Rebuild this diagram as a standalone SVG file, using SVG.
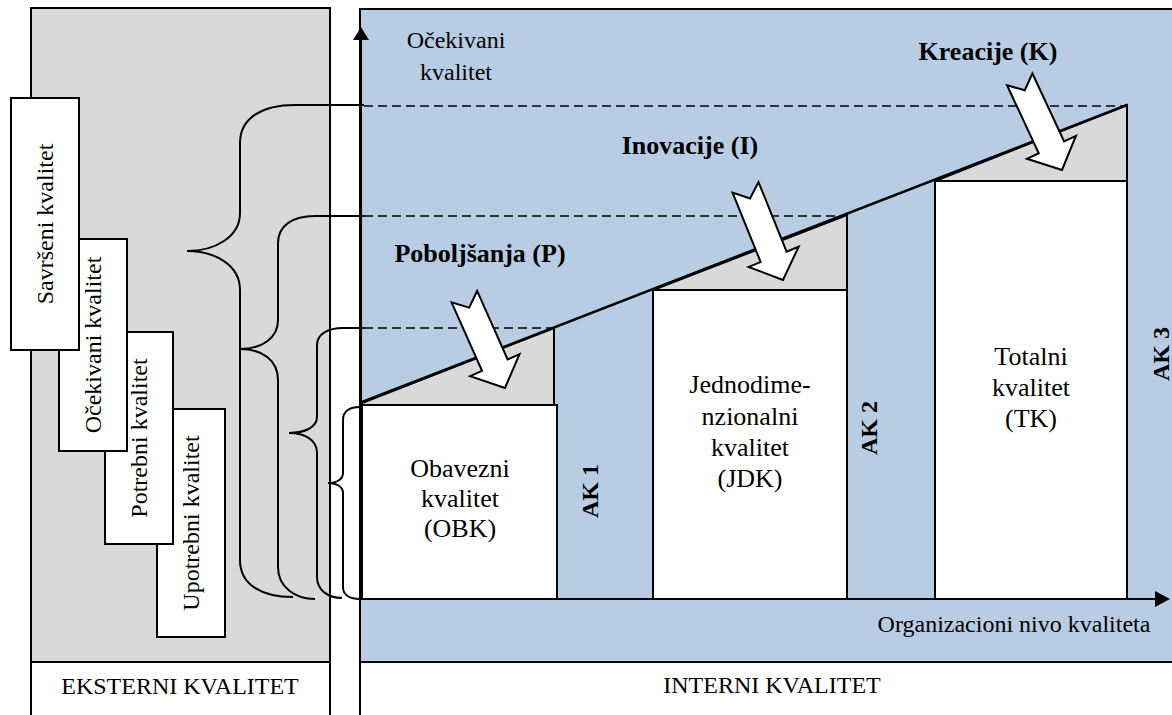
<svg xmlns="http://www.w3.org/2000/svg" width="1172" height="715" viewBox="0 0 1172 715">
<style>
  .t { font-family: "Liberation Serif", "Times New Roman", serif; fill: #000; }
  .s24 { font-size: 24px; }
  .s26 { font-size: 26px; }
  .b { font-weight: bold; }
  .ln { stroke: #000; stroke-width: 2; fill: none; }
  .box { fill: #fff; stroke: #000; stroke-width: 2; }
  .tri { fill: #d9d9d9; stroke: #000; stroke-width: 2; }
  .dash { stroke: #000; stroke-width: 1.6; stroke-dasharray: 9 5; fill: none; }
  .arrow { fill: #fff; stroke: #000; stroke-width: 2; stroke-linejoin: miter; }
</style>
<defs>
  <path id="blockArrow" d="M0,0 L-25,27 L-25,14 L-100,14 L-88,0 L-100,-14 L-25,-14 L-25,-27 Z"/>
</defs>
<rect width="1172" height="715" fill="#fff"/>

<!-- panels -->
<g id="panel-external">
  <rect x="31" y="8" width="299" height="654" fill="#d9d9d9" stroke="#000" stroke-width="2"/>
  <rect x="31" y="662" width="299" height="60" fill="#fff" stroke="#000" stroke-width="2"/>
  <text class="t s24" x="180" y="694" text-anchor="middle">EKSTERNI KVALITET</text>
</g>
<g id="panel-internal">
  <rect x="360" y="9" width="830" height="653" fill="#b8cce4" stroke="#000" stroke-width="2"/>
  <rect x="360" y="662" width="830" height="60" fill="#fff" stroke="#000" stroke-width="2"/>
  <text class="t s24" x="772" y="693" text-anchor="middle">INTERNI KVALITET</text>
</g>

<!-- external quality boxes -->
<g id="upotrebni">
  <rect class="box" x="157" y="409" width="68" height="228"/>
  <text class="t s24" transform="translate(191,523) rotate(-90)" x="0" y="8" text-anchor="middle">Upotrebni kvalitet</text>
</g>
<g id="potrebni">
  <rect class="box" x="105" y="332" width="68" height="212"/>
  <text class="t s24" transform="translate(139,438) rotate(-90)" x="0" y="8" text-anchor="middle">Potrebni kvalitet</text>
</g>
<g id="ocekivani">
  <rect class="box" x="59" y="239" width="68" height="212"/>
  <text class="t s24" transform="translate(93,345) rotate(-90)" x="0" y="8" text-anchor="middle">Očekivani kvalitet</text>
</g>
<g id="savrseni">
  <rect class="box" x="11" y="98" width="68" height="252"/>
  <text class="t s24" transform="translate(45,224) rotate(-90)" x="0" y="8" text-anchor="middle">Savršeni kvalitet</text>
</g>

<!-- internal levels -->
<g id="obk">
  <polygon class="tri" points="362,403 554,328 554,405 362,405"/>
  <rect class="box" x="362" y="405" width="195" height="194"/>
  <text class="t s26" x="460" y="477" text-anchor="middle">Obavezni</text>
  <text class="t s26" x="460" y="507" text-anchor="middle">kvalitet</text>
  <text class="t s26" x="460" y="537" text-anchor="middle">(OBK)</text>
</g>
<g id="jdk">
  <polygon class="tri" points="653,290 847,215 847,290"/>
  <rect class="box" x="653" y="290" width="194" height="309"/>
  <text class="t s26" x="750" y="393" text-anchor="middle">Jednodime-</text>
  <text class="t s26" x="750" y="425" text-anchor="middle">nzionalni</text>
  <text class="t s26" x="750" y="456" text-anchor="middle">kvalitet</text>
  <text class="t s26" x="750" y="487" text-anchor="middle">(JDK)</text>
</g>
<g id="tk">
  <polygon class="tri" points="935,181 1127,105 1127,181"/>
  <rect class="box" x="935" y="181" width="192" height="418"/>
  <text class="t s26" x="1031" y="365" text-anchor="middle">Totalni</text>
  <text class="t s26" x="1031" y="396" text-anchor="middle">kvalitet</text>
  <text class="t s26" x="1031" y="427" text-anchor="middle">(TK)</text>
</g>

<g id="labels">
  <text class="t s24" x="456" y="48" text-anchor="middle">Očekivani</text>
  <text class="t s24" x="456" y="80" text-anchor="middle">kvalitet</text>
  <text class="t s26 b" x="480" y="262" text-anchor="middle">Poboljšanja (P)</text>
  <text class="t s26 b" x="690" y="154" text-anchor="middle">Inovacije (I)</text>
  <text class="t s26 b" x="988" y="60" text-anchor="middle">Kreacije (K)</text>
  <text class="t s24" x="1014" y="632" text-anchor="middle">Organizacioni nivo kvaliteta</text>
  <text class="t s24 b" transform="translate(590,491) rotate(-90)" x="0" y="8" text-anchor="middle">AK 1</text>
  <text class="t s24 b" transform="translate(869,428) rotate(-90)" x="0" y="8" text-anchor="middle">AK 2</text>
  <text class="t s24 b" transform="translate(1161,354) rotate(-90)" x="0" y="8" text-anchor="middle">AK 3</text>
</g>

<!-- connectors -->
<g id="connectors">
  <!-- dashed level lines -->
  <line class="dash" x1="364" y1="106" x2="1127" y2="106"/>
  <line class="dash" x1="364" y1="216" x2="842" y2="216"/>
  <line class="dash" x1="364" y1="328" x2="552" y2="328"/>
  <!-- solid lines from braces -->
  <line class="ln" x1="295" y1="105" x2="364" y2="105"/>
  <line class="ln" x1="315" y1="216" x2="364" y2="216"/>
  <line class="ln" x1="343" y1="328" x2="364" y2="328"/>
  <!-- braces -->
  <path class="ln" d="M295,105 C262,105 240,118 240,143 L240,213 C240,237 215,251 187,251 C215,251 240,265 240,290 L240,560 C240,585 262,597 293,597"/>
  <path class="ln" d="M315,216 C292,216 278,226 278,243 L278,320 C278,338 262,349 240,349 C262,349 278,360 278,380 L278,567 C278,587 295,599 315,599"/>
  <path class="ln" d="M343,328 C328,328 317,334 317,345 L317,417 C317,427 305,433 289,433 C305,433 317,440 317,453 L317,577 C317,590 328,598 342,598"/>
  <path class="ln" d="M360,407 C350,407 343,411 343,420 L343,473 C343,479 337,483 328,483 C337,483 343,487 343,493 L343,587 C343,595 350,599 360,599"/>
  <!-- diagonal expected quality line -->
  <line x1="362" y1="402" x2="1127" y2="105" stroke="#000" stroke-width="2.5"/>
  <!-- axes -->
  <line class="ln" x1="361" y1="599" x2="361" y2="38"/>
  <polygon points="361,27 353,40 369,40" fill="#000"/>
  <line class="ln" x1="361" y1="599" x2="1157" y2="599"/>
  <polygon points="1170,599 1155,591 1155,607" fill="#000"/>
  <!-- block arrows -->
  <use href="#blockArrow" class="arrow" transform="translate(505,388) rotate(66)"/>
  <use href="#blockArrow" class="arrow" transform="translate(783,280) rotate(68)"/>
  <use href="#blockArrow" class="arrow" transform="translate(1062,170) rotate(65)"/>
</g>
</svg>
